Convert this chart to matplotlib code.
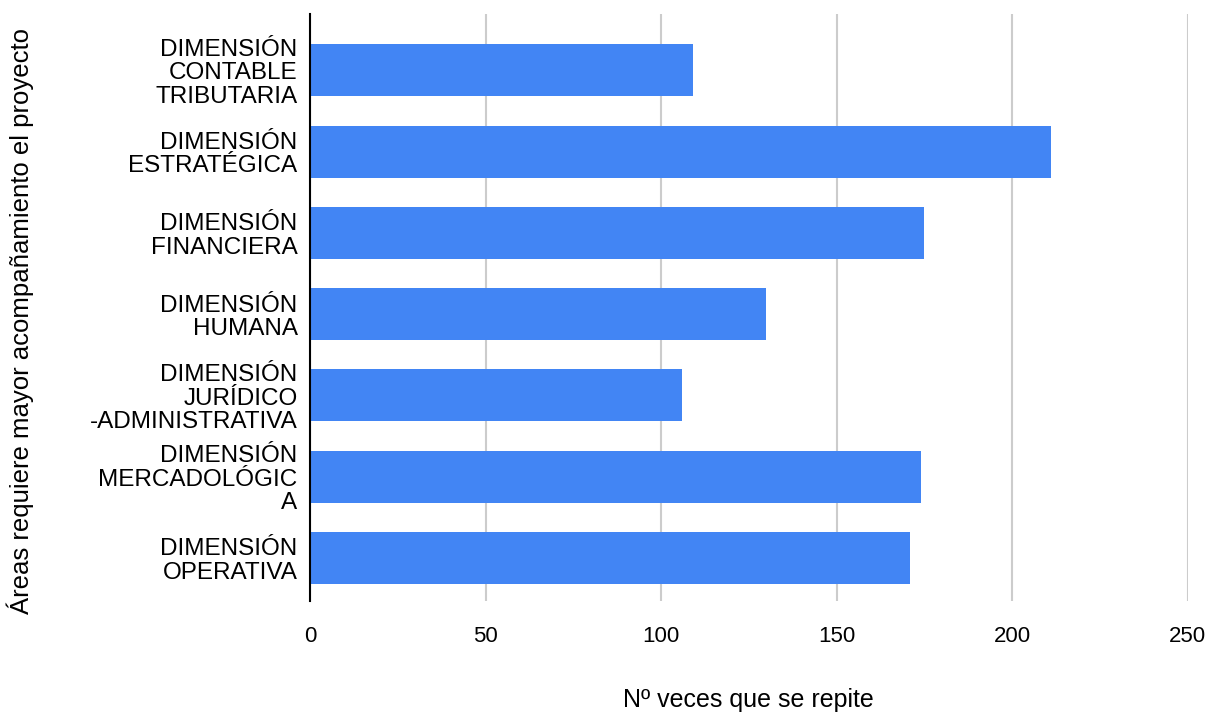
import matplotlib.pyplot as plt

plt.rcParams['font.family'] = ['Liberation Sans', 'DejaVu Sans']

categorias = ['DIMENSIÓN\nCONTABLE\nTRIBUTARIA', 'DIMENSIÓN\nESTRATÉGICA', 'DIMENSIÓN\nFINANCIERA',
              'DIMENSIÓN\nHUMANA', 'DIMENSIÓN\nJURÍDICO\n-ADMINISTRATIVA', 'DIMENSIÓN\nMERCADOLÓGIC\nA',
              'DIMENSIÓN\nOPERATIVA']
veces = [109, 211, 175, 130, 106, 174, 171]
xticks = [0, 50, 100, 150, 200, 250]

fig = plt.figure(figsize=(12.13, 7.12), dpi=100)
ax = fig.add_axes([0.2556, 0.156, 0.7234, 0.824])

pos = list(range(len(categorias)))
ax.barh(pos, veces, height=0.64, color='#4285f4', zorder=3)

ax.set_xlim(0, 250)
ax.set_ylim(6.53, -0.69)
ax.set_xticks(xticks)
ax.set_yticks(pos)
ax.set_yticklabels(categorias, fontsize=17.5, linespacing=1.08)
ax.tick_params(axis='x', labelsize=16, length=0, pad=18)
ax.tick_params(axis='y', length=0, pad=9)
ax.grid(axis='x', color='#cccccc', linewidth=1.5, zorder=0)

for s in ['top', 'right', 'bottom']:
    ax.spines[s].set_visible(False)
ax.spines['left'].set_linewidth(1.5)
ax.spines['left'].set_color('black')
ax.spines['left'].set_zorder(4)

ax.set_xlabel('Nº veces que se repite', fontsize=18)
ax.xaxis.set_label_coords(0.5, -0.148)
ax.set_ylabel('Áreas requiere mayor acompañamiento el proyecto', fontsize=18.5)
ax.yaxis.set_label_coords(-0.315, 0.477)

fig.savefig('out.png', dpi=100)
